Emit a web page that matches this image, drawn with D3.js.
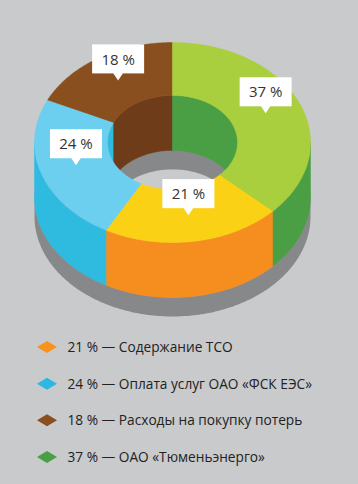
<!DOCTYPE html>
<html><head><meta charset="utf-8">
<script src="https://cdn.jsdelivr.net/npm/d3@7"></script>
<style>html,body{margin:0;padding:0;background:#c9cacc;}svg{display:block}</style>
</head><body>
<svg id="c" width="358" height="484"></svg>
<script>
// ---- data ----
const categories = ["Содержание ТСО", "Оплата услуг ОАО «ФСК ЕЭС»", "Расходы на покупку потерь", "ОАО «Тюменьэнерго»"];
const values = [21, 24, 18, 37];
const valueLabels = ["21 %", "24 %", "18 %", "37 %"];
// ---- palette ----
const topColors = ["#fbd116", "#6dcff0", "#8a4f1e", "#a9cf3f"];
const outerSideColors = ["#f68e1f", "#2ebbdf", "#8a4f1e", "#4a9f45"];
const innerSideColors = ["#f68e1f", "#2ebbdf", "#6e3c18", "#4a9f45"];
const legendColors = ["#f7921e", "#2cb8e0", "#8a4f1e", "#4a9f46"];

const bg = "#c9cacc", shadowCol = "#878889";
const cx = 172.5, cy = 142.5, rx = 138, ry = 100, innerFrac = 0.471, depth = 55, sd = 19;
const svg = d3.select("#c");
svg.append("rect").attr("width", 358).attr("height", 484).attr("fill", bg);

const total = d3.sum(values);
const start = values[3] / total * 2 * Math.PI;
const pie = d3.pie().sort(null).value(d => d).startAngle(start).endAngle(start + 2 * Math.PI);
const arcs = pie(values);

const xs = d3.scaleLinear().domain([-1, 1]).range([cx - rx, cx + rx]);
const ys = d3.scaleLinear().domain([-1, 1]).range([cy - ry, cy + ry]);
function P(t, r, z) { return [xs(r * Math.sin(t)), ys(-r * Math.cos(t)) + z]; }
function arcPts(a0, a1, r, z) {
  const n = Math.max(2, Math.ceil(Math.abs(a1 - a0) / (Math.PI / 180)));
  return d3.range(n + 1).map(i => P(a0 + (a1 - a0) * i / n, r, z));
}
const line = d3.line();
function poly(pts) { return line(pts) + "Z"; }
function clip(a0, a1, lo, hi) {
  const out = [];
  for (let k = -1; k <= 2; k++) {
    const b0 = Math.max(a0, lo + 2 * Math.PI * k), b1 = Math.min(a1, hi + 2 * Math.PI * k);
    if (b1 > b0) out.push([b0, b1]);
  }
  return out;
}

// shadow slab
const g = svg.append("g");
g.append("path").attr("fill", shadowCol)
  .attr("d", poly(arcPts(0, 2 * Math.PI, 1, depth)));
g.append("path").attr("fill", shadowCol)
  .attr("d", poly(arcPts(Math.PI / 2, 3 * Math.PI / 2, 1, depth).concat(arcPts(3 * Math.PI / 2, Math.PI / 2, 1, depth + sd))));
g.append("path").attr("fill", bg)
  .attr("d", poly(arcPts(0, 2 * Math.PI, innerFrac, depth + sd)));

// inner back walls
arcs.forEach((a, i) => {
  clip(a.startAngle, a.endAngle, -Math.PI / 2, Math.PI / 2).forEach(([b0, b1]) => {
    g.append("path").attr("fill", innerSideColors[i]).attr("stroke", innerSideColors[i]).attr("stroke-width", 0.5)
      .attr("d", poly(arcPts(b0, b1, innerFrac, 0).concat(arcPts(b1, b0, innerFrac, depth))));
  });
});
// outer front walls
arcs.forEach((a, i) => {
  clip(a.startAngle, a.endAngle, Math.PI / 2, 3 * Math.PI / 2).forEach(([b0, b1]) => {
    g.append("path").attr("fill", outerSideColors[i]).attr("stroke", outerSideColors[i]).attr("stroke-width", 0.5)
      .attr("d", poly(arcPts(b0, b1, 1, 0).concat(arcPts(b1, b0, 1, depth))));
  });
});
// top faces
arcs.forEach((a, i) => {
  g.append("path").attr("fill", topColors[i]).attr("stroke", topColors[i]).attr("stroke-width", 0.5)
    .attr("d", poly(arcPts(a.startAngle, a.endAngle, 1, 0).concat(arcPts(a.endAngle, a.startAngle, innerFrac, 0))));
});

// labels
const midR = (1 + innerFrac) / 2;
arcs.forEach((a, i) => {
  const m = (a.startAngle + a.endAngle) / 2;
  const [tx, ty] = P(m, midR, 0);
  const lg = svg.append("g");
  lg.append("rect").attr("x", tx - 26).attr("y", ty - 36).attr("width", 52).attr("height", 29).attr("fill", "#fff");
  lg.append("path").attr("fill", "#fff").attr("d", poly([[tx - 5, ty - 7.5], [tx + 5, ty - 7.5], [tx, ty]]));
  lg.append("text").attr("x", tx).attr("y", ty - 15.8).attr("text-anchor", "middle")
    .attr("font-family", "Open Sans, sans-serif").attr("font-size", 15).attr("fill", "#333")
    .text(valueLabels[i]);
});

// legend
const ly = d3.scalePoint().domain(categories).range([347, 457]);
const leg = svg.append("g");
categories.forEach((c, i) => {
  const y = ly(c);
  leg.append("path").attr("fill", legendColors[i])
    .attr("d", poly([[37, y], [47, y - 6], [57, y], [47, y + 6]]));
  leg.append("text").attr("x", 67.5).attr("y", y + 5)
    .attr("font-family", "Open Sans, sans-serif").attr("font-size", 13.7).attr("fill", "#222")
    .text(valueLabels[i] + " — " + c);
});
</script>
</body></html>
